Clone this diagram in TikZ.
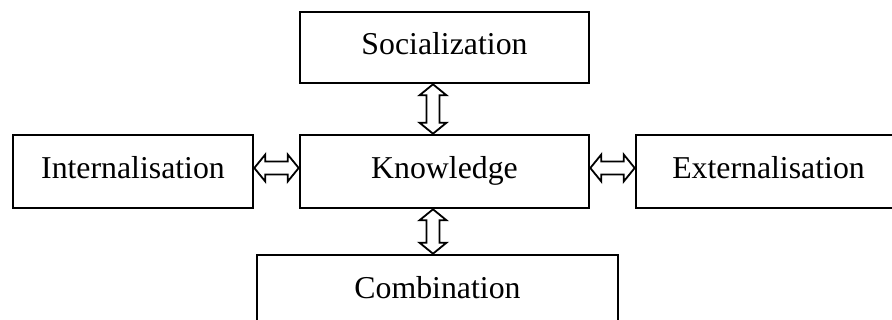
\documentclass[tikz,border=0pt]{standalone}
\usepackage{fontspec}
\setmainfont{Liberation Serif}
\usetikzlibrary{calc}
\tikzset{
  box/.style={draw=black, line width=2.6pt, inner sep=0pt, fill=white,
    text height=22pt, text depth=7pt,
    font=\fontsize{31.8}{36}\selectfont},
  arr/.style={draw=black, line width=1.8pt, fill=white, line join=miter}
}
\newcommand{\varrow}[2]{%
  \draw[arr] (#1) -- ($(#1)+(-13.5,11)$) -- ($(#1)+(-6.5,11)$) -- ($(#2)+(-6.5,-11)$)
    -- ($(#2)+(-13.5,-11)$) -- (#2) -- ($(#2)+(13.5,-11)$) -- ($(#2)+(6.5,-11)$)
    -- ($(#1)+(6.5,11)$) -- ($(#1)+(13.5,11)$) -- cycle;}
\newcommand{\harrow}[2]{%
  \draw[arr] (#1) -- ($(#1)+(11,-13.5)$) -- ($(#1)+(11,-6.5)$) -- ($(#2)+(-11,-6.5)$)
    -- ($(#2)+(-11,-13.5)$) -- (#2) -- ($(#2)+(-11,13.5)$) -- ($(#2)+(-11,6.5)$)
    -- ($(#1)+(11,6.5)$) -- ($(#1)+(11,13.5)$) -- cycle;}
\begin{document}
\begin{tikzpicture}[x=1pt,y=-1pt]
\useasboundingbox (0,0) rectangle (892,320);
\clip (0,0) rectangle (892,320);
\node[box, minimum width=289pt, minimum height=71pt] (soc) at (444.5,47.5) {Socialization};
\node[box, minimum width=240pt, minimum height=73pt] (int) at (133,171.5) {Internalisation};
\node[box, minimum width=289pt, minimum height=73pt] (know) at (444.5,171.5) {Knowledge};
\node[box, minimum width=284pt, minimum height=73pt] (ext) at (778,171.5) {Externalisation\kern19pt};
\node[box, minimum width=361pt, minimum height=72pt] (comb) at (437.5,291) {Combination};
\coordinate (a1) at ($(soc.south)+(-11.5,0)$);
\coordinate (a2) at ($(know.north)+(-11.5,0)$);
\coordinate (b1) at ($(know.south)+(-11.5,0)$);
\coordinate (b2) at (b1 |- comb.north);
\coordinate (c1) at ($(int.east)+(0,-3.5)$);
\coordinate (c2) at ($(know.west)+(0,-3.5)$);
\coordinate (d1) at ($(know.east)+(0,-3.5)$);
\coordinate (d2) at ($(ext.west)+(0,-3.5)$);
\varrow{a1}{a2}
\varrow{b1}{b2}
\harrow{c1}{c2}
\harrow{d1}{d2}
\end{tikzpicture}
\end{document}
